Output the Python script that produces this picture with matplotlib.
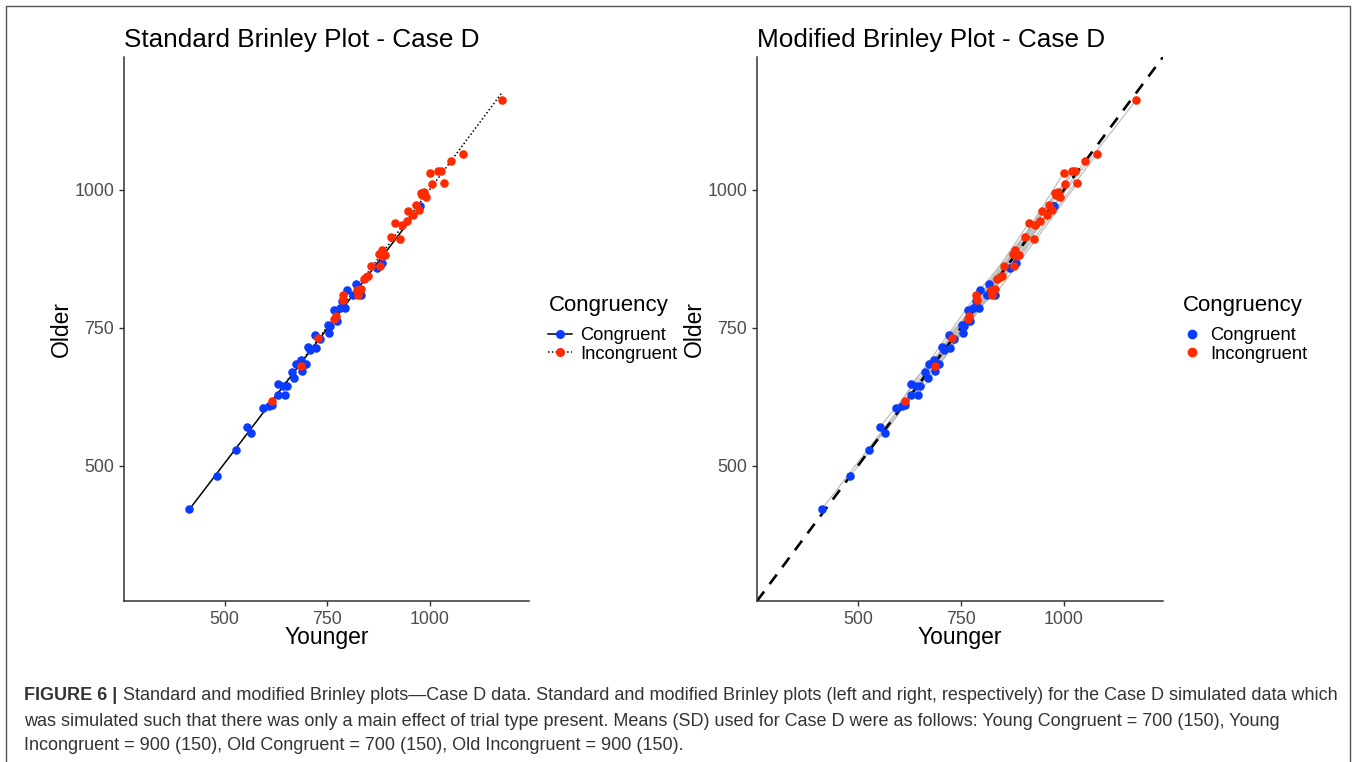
import matplotlib
matplotlib.use("Agg")
import matplotlib.pyplot as plt
import numpy as np
from matplotlib.lines import Line2D
from matplotlib.patches import Rectangle

# ---------------- data ----------------
cong_young = [413, 481, 527, 554, 565, 593, 607, 615, 629, 630, 641, 647, 652, 663, 670,
              673, 685, 688, 698, 704, 708, 721, 723, 733, 752, 755, 757, 767, 773, 780,
              786, 790, 794, 797, 813, 819, 833, 870, 883, 976]
cong_old = [422, 481, 528, 571, 559, 605, 608, 610, 648, 628, 644, 629, 644, 670, 660,
            684, 692, 672, 685, 715, 710, 737, 713, 729, 755, 741, 753, 782, 762, 786,
            798, 788, 786, 819, 810, 830, 810, 858, 867, 971]
incong_young = [615, 687, 728, 767, 770, 787, 789, 823, 825, 832, 839, 845, 850, 856, 877,
                878, 882, 883, 891, 905, 915, 927, 931, 943, 946, 959, 965, 972, 978, 981,
                986, 990, 1000, 1004, 1020, 1027, 1033, 1051, 1080, 1176]
incong_old = [618, 681, 732, 766, 772, 809, 800, 819, 809, 820, 838, 842, 844, 862, 884,
              862, 891, 880, 883, 915, 940, 911, 937, 944, 962, 955, 973, 963, 994, 990,
              996, 988, 1031, 1010, 1034, 1035, 1012, 1052, 1065, 1163]

ticks = [500, 750, 1000]
lims = (255, 1241)
group_labels = ["Congruent", "Incongruent"]
titles = ["Standard Brinley Plot - Case D", "Modified Brinley Plot - Case D"]

BLUE = "#0a3cff"
RED = "#ff2a00"
FONT = ["Liberation Sans", "DejaVu Sans"]
plt.rcParams["font.family"] = FONT

W, H = 1357, 762
fig = plt.figure(figsize=(W / 100, H / 100), dpi=100)

def fx(px):
    return px / W

def fy(py):
    return 1 - py / H

ax1 = fig.add_axes([fx(124), fy(601), fx(529 - 124), (601 - 57) / H])
ax2 = fig.add_axes([fx(757), fy(601), fx(1163 - 757), (601 - 57) / H])

cy, co = np.array(cong_young), np.array(cong_old)
iy, io = np.array(incong_young), np.array(incong_old)

def style(ax, title):
    ax.set_xlim(*lims)
    ax.set_ylim(*lims)
    ax.set_xticks(ticks)
    ax.set_yticks(ticks)
    for s in ["top", "right"]:
        ax.spines[s].set_visible(False)
    for s in ["left", "bottom"]:
        ax.spines[s].set_color("#333333")
        ax.spines[s].set_linewidth(1.1)
    ax.tick_params(colors="#333333", labelcolor="#4d4d4d", labelsize=12.8, length=3.5, width=1)
    ax.set_xlabel("Younger", fontsize=16.5, color="black", labelpad=-1)
    ax.set_ylabel("Older", fontsize=16.5, color="black", labelpad=1)
    ax.set_title(title, loc="left", fontsize=18.8, color="black", pad=7)

# ----- left: standard Brinley plot -----
style(ax1, titles[0])
for xs, ys, ls in [(cy, co, "-"), (iy, io, (0, (1.0, 1.5)))]:
    b, a = np.polyfit(xs, ys, 1)
    xx = np.array([xs.min(), xs.max()])
    ax1.plot(xx, a + b * xx, color="black", lw=1.1, ls=ls, zorder=2)
ax1.scatter(cy, co, s=38, color=BLUE, zorder=3, linewidths=0)
ax1.scatter(iy, io, s=38, color=RED, zorder=3, linewidths=0)
h1 = [Line2D([], [], color="black", lw=1.1, ls="-", marker="o", markersize=5.5,
             markerfacecolor=BLUE, markeredgecolor=BLUE),
      Line2D([], [], color="black", lw=1.1, ls=(0, (1.0, 1.5)), marker="o", markersize=5.5,
             markerfacecolor=RED, markeredgecolor=RED)]
leg1 = ax1.legend(h1, group_labels, title="Congruency", loc="center left",
                  bbox_to_anchor=(1.03, 0.5), frameon=False, fontsize=13.2,
                  title_fontsize=16, handlelength=1.3, handletextpad=0.45,
                  labelspacing=0.08, borderaxespad=0)
leg1._legend_box.align = "left"
leg1._legend_box.sep = 8

# ----- right: modified Brinley plot -----
style(ax2, titles[1])
ax2.plot(lims, lims, color="black", lw=1.9, ls=(0, (4.5, 3.5)), zorder=2)
order_c = np.argsort(cy)
order_i = np.argsort(iy)
for k in range(len(cy)):
    ax2.plot([cy[order_c[k]], iy[order_i[k]]], [co[order_c[k]], io[order_i[k]]],
             color="#b8b8b8", lw=0.8, zorder=1)
ax2.scatter(cy, co, s=38, color=BLUE, zorder=3, linewidths=0)
ax2.scatter(iy, io, s=38, color=RED, zorder=3, linewidths=0)
h2 = [Line2D([], [], ls="none", marker="o", markersize=6, color=BLUE),
      Line2D([], [], ls="none", marker="o", markersize=6, color=RED)]
leg2 = ax2.legend(h2, group_labels, title="Congruency", loc="center left",
                  bbox_to_anchor=(1.03, 0.5), frameon=False, fontsize=13.2,
                  title_fontsize=16, handlelength=1.0, handletextpad=0.5,
                  labelspacing=0.08, borderaxespad=0)
leg2._legend_box.align = "left"
leg2._legend_box.sep = 8

# ----- outer border -----
fig.patches.append(Rectangle((fx(6), -0.05), fx(1350 - 6), fy(6) + 0.05,
                             transform=fig.transFigure, fill=False,
                             edgecolor="#555555", lw=1.0))

# ----- caption -----
cap_font = ["Liberation Sans Narrow", "Liberation Sans", "DejaVu Sans"]
cap_color = "#333333"
cap_size = 13.0
t = fig.text(fx(24), fy(696), "FIGURE 6 |", fontsize=cap_size, fontweight="bold",
             family=cap_font, color=cap_color, va="center", ha="left")
fig.canvas.draw()
bb = t.get_window_extent()
fig.text(bb.x1 / W + 1 / W, fy(696),
         " Standard and modified Brinley plots\u2014Case D data. Standard and modified Brinley plots (left and right, respectively) for the Case D simulated data which",
         fontsize=cap_size, family=cap_font, color=cap_color, va="center", ha="left")
fig.text(fx(24), fy(721),
         "was simulated such that there was only a main effect of trial type present. Means (SD) used for Case D were as follows: Young Congruent = 700 (150), Young",
         fontsize=cap_size, family=cap_font, color=cap_color, va="center", ha="left")
fig.text(fx(24), fy(746),
         "Incongruent = 900 (150), Old Congruent = 700 (150), Old Incongruent = 900 (150).",
         fontsize=cap_size, family=cap_font, color=cap_color, va="center", ha="left")

fig.savefig("out.png", dpi=100)
